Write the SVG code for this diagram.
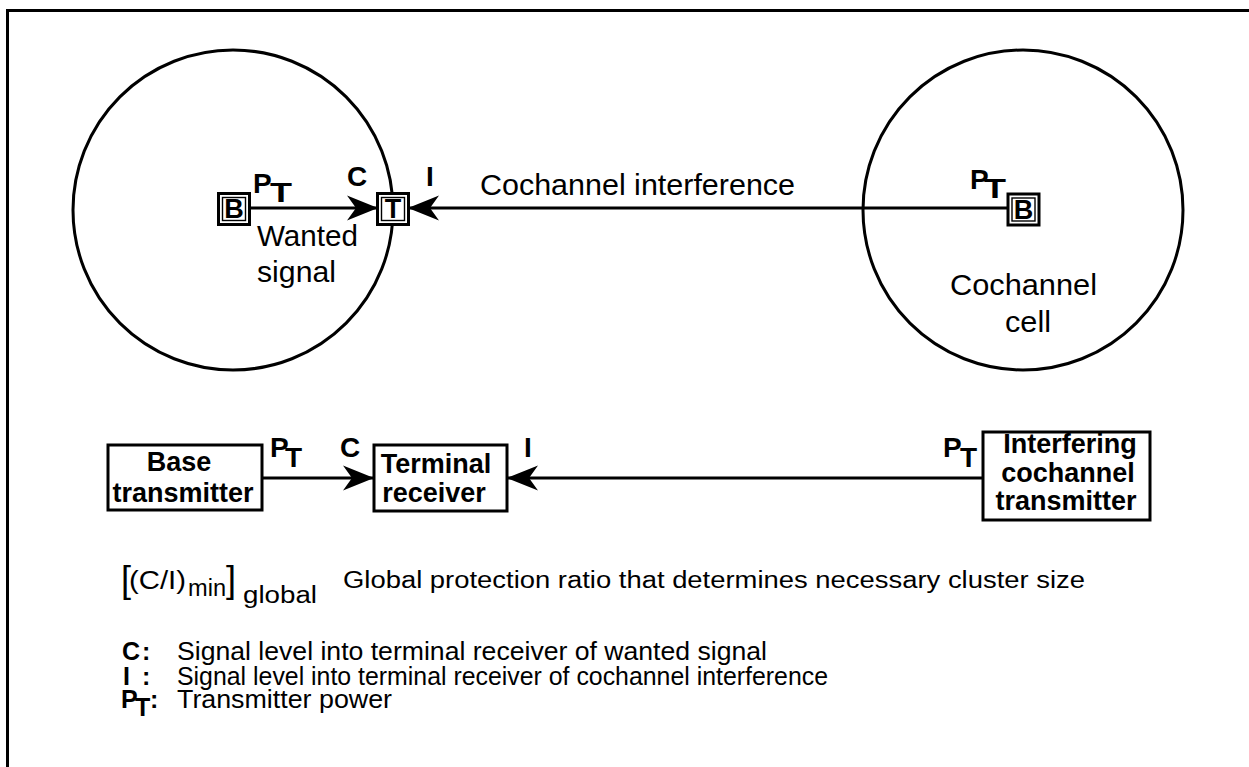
<svg xmlns="http://www.w3.org/2000/svg" width="1249" height="767" viewBox="0 0 1249 767">
  <style>
    .ln { fill: none; stroke: #000; stroke-width: 3; }
    .box { fill: #fff; stroke: #000; stroke-width: 3; }
    .inner { fill: none; stroke: #000; stroke-width: 1.4; }
    .cell { fill: none; stroke: #000; stroke-width: 3; }
    text { font-family: "Liberation Sans", Arial, Helvetica, sans-serif; fill: #000; }
    .lbl { font-size: 28px; font-weight: bold; }
    .sub { font-size: 28px; font-weight: bold; }
    .txt { font-size: 29px; }
    .boxt { font-size: 27px; font-weight: bold; text-anchor: middle; }
    .leg { font-size: 25px; }
    .legk { font-size: 25px; font-weight: bold; }
    .mid { text-anchor: middle; }
  </style>
  <defs>
    <marker id="arrow" markerUnits="userSpaceOnUse" markerWidth="34" markerHeight="28" refX="31" refY="12.5" orient="auto" overflow="visible">
      <path d="M0,0 L31,12.5 L0,25 L9,12.5 Z" fill="#000"/>
    </marker>
  </defs>

  <!-- outer frame -->
  <path class="ln" d="M7.5,770 V10.5 H1252"/>

  <!-- cells -->
  <g id="wanted-cell">
    <circle class="cell" cx="233" cy="210" r="160"/>
    <text class="txt" x="257" y="246" textLength="101" lengthAdjust="spacingAndGlyphs">Wanted</text>
    <text class="txt" x="257" y="282" textLength="79" lengthAdjust="spacingAndGlyphs">signal</text>
  </g>
  <g id="cochannel-cell">
    <circle class="cell" cx="1023" cy="210" r="160"/>
    <text class="txt" x="950" y="295" textLength="147" lengthAdjust="spacingAndGlyphs">Cochannel</text>
    <text class="txt" x="1005" y="332" textLength="46" lengthAdjust="spacingAndGlyphs">cell</text>
  </g>

  <!-- connectors -->
  <g id="connectors">
    <line class="ln" x1="249" y1="208" x2="378" y2="208" marker-end="url(#arrow)"/>
    <line class="ln" x1="1008" y1="208" x2="408" y2="208" marker-end="url(#arrow)"/>
    <line class="ln" x1="262" y1="478" x2="374" y2="478" marker-end="url(#arrow)"/>
    <line class="ln" x1="983" y1="478" x2="507" y2="478" marker-end="url(#arrow)"/>
  </g>

  <!-- connector labels, upper -->
  <g id="labels-upper">
    <text class="lbl" x="253" y="193">P</text><text class="sub" x="270" y="202" textLength="22" lengthAdjust="spacingAndGlyphs">T</text>
    <text class="lbl" x="347" y="186">C</text>
    <text class="lbl" x="426" y="186">I</text>
    <text class="txt" x="480" y="195" font-size="30" textLength="315" lengthAdjust="spacingAndGlyphs">Cochannel interference</text>
    <text class="lbl" x="970" y="189">P</text><text class="sub" x="984" y="198" textLength="22" lengthAdjust="spacingAndGlyphs">T</text>
  </g>

  <!-- small station boxes -->
  <g id="base-left">
    <rect class="box" x="218.5" y="193.5" width="31" height="31"/>
    <rect class="inner" x="222.5" y="197.5" width="23" height="23"/>
    <text class="boxt" x="234" y="218" font-size="25">B</text>
  </g>
  <g id="terminal">
    <rect class="box" x="377.5" y="193.5" width="31" height="31"/>
    <rect class="inner" x="381.5" y="197.5" width="23" height="23"/>
    <text class="boxt" x="393" y="218" font-size="25">T</text>
  </g>
  <g id="base-right">
    <rect class="box" x="1008" y="194" width="31" height="31"/>
    <rect class="inner" x="1012" y="198" width="23" height="23"/>
    <text class="boxt" x="1023.5" y="218.5" font-size="25">B</text>
  </g>

  <!-- block diagram, lower -->
  <g id="base-transmitter">
    <rect class="box" x="108" y="445" width="154" height="65"/>
    <text class="boxt" x="179" y="471">Base</text>
    <text class="boxt" x="183" y="502">transmitter</text>
  </g>
  <g id="terminal-receiver">
    <rect class="box" x="374" y="445" width="133" height="66"/>
    <text class="boxt" x="436" y="473">Terminal</text>
    <text class="boxt" x="434" y="502">receiver</text>
  </g>
  <g id="interfering-transmitter">
    <rect class="box" x="983" y="432" width="167" height="88"/>
    <text class="boxt" x="1070" y="453">Interfering</text>
    <text class="boxt" x="1068" y="482">cochannel</text>
    <text class="boxt" x="1066" y="510">transmitter</text>
  </g>
  <g id="labels-lower">
    <text class="lbl" x="270" y="457">P</text><text class="sub" x="285" y="467">T</text>
    <text class="lbl" x="340" y="457">C</text>
    <text class="lbl" x="524" y="457">I</text>
    <text class="lbl" x="943" y="457">P</text><text class="sub" x="960" y="467">T</text>
  </g>

  <!-- legend -->
  <g id="legend">
    <text x="121" y="592" font-size="36">[</text>
    <text x="129" y="589" font-size="26" textLength="57" lengthAdjust="spacingAndGlyphs">(C/I)</text>
    <text x="188" y="596" font-size="23" textLength="38" lengthAdjust="spacingAndGlyphs">min</text>
    <text x="226" y="592" font-size="36">]</text>
    <text x="243" y="603" font-size="23" textLength="74" lengthAdjust="spacingAndGlyphs">global</text>
    <text x="343" y="588" font-size="23" textLength="742" lengthAdjust="spacingAndGlyphs">Global protection ratio that determines necessary cluster size</text>

    <text class="legk" x="122" y="660">C</text><text class="legk" x="142" y="660">:</text>
    <text class="leg" x="177" y="660" textLength="590" lengthAdjust="spacingAndGlyphs">Signal level into terminal receiver of wanted signal</text>

    <text class="legk" x="123" y="685">I</text><text class="legk" x="142" y="685">:</text>
    <text class="leg" x="177" y="685" textLength="651" lengthAdjust="spacingAndGlyphs">Signal level into terminal receiver of cochannel interference</text>

    <text class="legk" x="121" y="708">P</text><text class="legk" x="135" y="716">T</text><text class="legk" x="150" y="708">:</text>
    <text class="leg" x="177" y="708" textLength="215" lengthAdjust="spacingAndGlyphs">Transmitter power</text>
  </g>
</svg>
